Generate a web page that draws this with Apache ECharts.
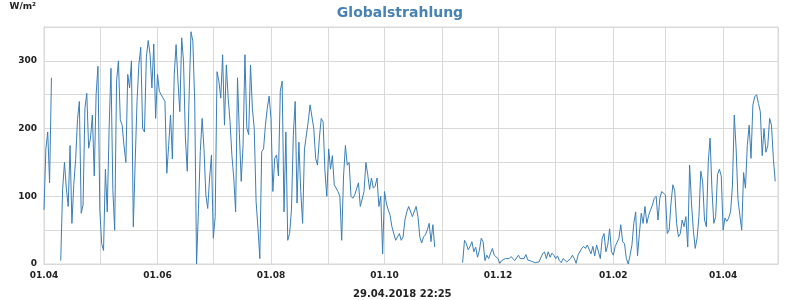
<!DOCTYPE html>
<html>
<head>
<meta charset="utf-8">
<script src="https://cdn.jsdelivr.net/npm/echarts@6/dist/echarts.min.js"></script>
<style>
    html, body { margin: 0; padding: 0; background: #fff; }
    #chart { width: 800px; height: 300px; }
</style>
</head>
<body>
<div id="chart"></div>
<script>
// Tageswerte W/m², ab 01.04.2017 (null = keine Daten)
const apr17 = [80, 170, 195, 120, 275, null, null, null, null, 5, 110, 150, 112, 85, 175, 60, 117, 154, 213, 240, 75, 87, 230, 252, 171, 186, 220, 130, 250, 292];
const may17 = [80, 30, 20, 140, 77, 200, 289, 110, 50, 270, 300, 213, 205, 175, 150, 280, 260, 300, 55, 150, 240, 295, 320, 200, 195, 305, 330, 310, 260, 325, 215];
const jun17 = [280, 255, 250, 245, 240, 134, 175, 220, 155, 280, 324, 270, 225, 334, 299, 186, 137, 250, 343, 329, 240, 0, 80, 166, 215, 169, 102, 82, 127, 161];
const jul17 = [38, 70, 284, 270, 245, 309, 205, 294, 245, 210, 160, 127, 77, 275, 193, 122, 176, 309, 201, 191, 294, 230, 200, 92, 53, 8, 166, 170, 205, 230, 248];
const aug17 = [215, 107, 156, 161, 130, 255, 270, 77, 195, 35, 45, 80, 190, 240, 90, 180, 107, 60, 170, 170, 210, 235, 235, 200, 156, 146, 186, 215, 210, 137, 100];
const sep17 = [170, 140, 160, 117, 115, 107, 100, 35, 130, 175, 146, 150, 100, 97, 102, 100, 120, 85, 87, 107, 150, 132, 110, 127, 112, 115, 127, 85, 100, 15];
const oct17 = [107, 90, 80, 72, 55, 53, 35, 35, 45, 35, 40, 65, 77, 85, 87, 70, 70, 85, 70, 40, 31, 40, 43, 50, 60, 33, 58, 25, null, null, null];
const nov17 = [null, null, null, null, null, null, null, null, null, null, null, 2, 35, 30, 21, 26, 33, 18, 25, 10, 20, 38, 33, 5, 13, 8, 16, 23, 13, 11];
const dec17 = [8, 1, 5, 3, 8, 8, 8, 11, 11, 5, 6, 13, 8, 10, 8, 14, 6, 6, 4, 3, 2, 2, 3, 2, 15, 18, 8, 18, 10, 16, 13];
const jan18 = [8, 12, 5, 2, 8, 6, 3, 2, 8, 13, 8, 1, 13, 11, 23, 26, 23, 28, 28, 15, 26, 12, 28, 18, 8, 38, 45, 18, 28, 52, 18];
const feb18 = [13, 26, 26, 38, 58, 33, 30, 8, 0, 13, 28, 60, 77, 12, 45, 75, 60, 85, 60, 72, 80, 87, 97, 100, 65, 97, 107, 105];
const mar18 = [102, 45, 50, 90, 117, 108, 60, 40, 45, 65, 55, 70, 25, 146, 90, 50, 23, 38, 70, 137, 122, 65, 55, 150, 186, 110, 60, 70, 132, 140, 130];
const apr18 = [50, 68, 63, 68, 77, 115, 220, 170, 95, 72, 50, 135, 112, 175, 205, 156, 235, 247, 250, 237, 225, 160, 200, 165, 175, 215, 205, 156, 122];

const yTicks = [0, 100, 200, 300];
const stand = '29.04.2018 22:25';

const months = [apr17, may17, jun17, jul17, aug17, sep17, oct17, nov17, dec17, jan18, feb18, mar18, apr18];
const seriesData = [];
let day = 0;
months.forEach(m => {
    m.forEach(v => {
        seriesData.push([new Date(2017, 3, 1 + day).getTime(), v]);
        day++;
    });
});

const pad = n => (n < 10 ? '0' : '') + n;
const gridColor = '#d9d9d9';
const font = 'DejaVu Sans';

const chart = echarts.init(document.getElementById('chart'));
chart.setOption({
    animation: false,
    title: [
        {
            text: 'Globalstrahlung',
            left: 'center',
            top: 1,
            textStyle: { fontFamily: font, fontSize: 14, fontWeight: 'bold', color: '#4682b4' }
        },
        {
            text: stand,
            left: 348,
            top: 284,
            textStyle: { fontFamily: font, fontSize: 10, fontWeight: 'bold', color: '#222' }
        }
    ],
    grid: {
        left: 44,
        right: 22,
        top: 27,
        bottom: 36,
        show: true,
        borderColor: gridColor,
        borderWidth: 1
    },
    xAxis: {
        type: 'time',
        min: new Date(2017, 3, 1).getTime(),
        max: new Date(2018, 3, 30, 12).getTime(),
        splitNumber: 13,
        minInterval: 28 * 86400000,
        maxInterval: 31 * 86400000,
        axisLine: { lineStyle: { color: gridColor } },
        axisTick: { show: false },
        splitLine: { show: true, lineStyle: { color: gridColor } },
        axisLabel: {
            fontFamily: font,
            fontSize: 9,
            fontWeight: 'bold',
            color: '#222',
            margin: 7,
            hideOverlap: false,
            formatter: function (value) {
                const d = new Date(value);
                if (d.getDate() !== 1 || d.getMonth() % 2 !== 1) return '';
                return pad(d.getDate()) + '.' + pad(d.getMonth() + 1);
            }
        }
    },
    yAxis: {
        type: 'value',
        min: 0,
        max: 350,
        interval: 50,
        name: 'W/m²',
        nameLocation: 'end',
        nameGap: 16,
        nameTextStyle: { fontFamily: font, fontSize: 9, fontWeight: 'bold', color: '#222', align: 'right', padding: [0, 8, 0, 0] },
        axisLine: { show: true, lineStyle: { color: gridColor } },
        axisTick: { show: false },
        splitLine: { lineStyle: { color: gridColor } },
        axisLabel: {
            fontFamily: font,
            fontSize: 9,
            fontWeight: 'bold',
            color: '#222',
            margin: 7,
            formatter: v => (yTicks.indexOf(v) > -1 ? String(v) : '')
        }
    },
    series: [
        {
            type: 'line',
            data: seriesData,
            showSymbol: false,
            connectNulls: false,
            lineStyle: { width: 1, color: '#3a7eb8' },
            itemStyle: { color: '#3a7eb8' }
        }
    ]
});
</script>
</body>
</html>
